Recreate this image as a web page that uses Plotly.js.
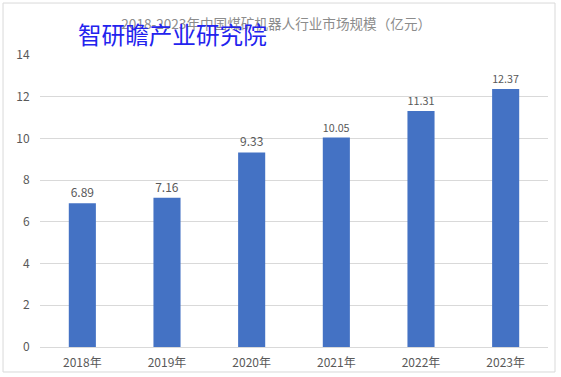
<!DOCTYPE html>
<html>
<head>
<meta charset="utf-8">
<script src="https://cdn.plot.ly/plotly-3.0.1.min.js"></script>
<style>
html,body{margin:0;padding:0;background:#fff;}
#chart{width:561px;height:377px;}
</style>
</head>
<body>
<div id="chart"></div>
<script>
const categories = ["2018年","2019年","2020年","2021年","2022年","2023年"];
const values = [6.89, 7.16, 9.33, 10.05, 11.31, 12.37];
const valueLabels = ["6.89","7.16","9.33","10.05","11.31","12.37"];
const yTicks = [0,2,4,6,8,10,12,14];
const chartTitle = "2018-2023年中国煤矿机器人行业市场规模（亿元）";
const watermark = "智研瞻产业研究院";

const font = '"Noto Sans CJK SC", "Noto Sans", sans-serif';

const trace = {
  type: 'bar',
  x: categories,
  y: values,
  text: valueLabels,
  textposition: 'outside',
  cliponaxis: false,
  textfont: {family: font, size: 12, color: '#595959'},
  marker: {color: '#4472c4'},
  hoverinfo: 'none'
};

const layout = {
  width: 561, height: 377,
  margin: {l: 40, r: 13, t: 55, b: 30},
  paper_bgcolor: '#fff', plot_bgcolor: '#fff',
  bargap: 0.68,
  showlegend: false,
  font: {family: font, color: '#595959', size: 12},
  title: {
    text: chartTitle,
    font: {family: font, size: 13.6, color: '#8c8c8c'},
    x: 0.465, xanchor: 'center', xref: 'paper',
    y: 0.935, yanchor: 'middle', yref: 'container'
  },
  xaxis: {
    type: 'category',
    showgrid: false,
    showline: true, linecolor: '#d9d9d9', linewidth: 1,
    ticks: 'outside', ticklen: 5, tickcolor: 'rgba(0,0,0,0)',
    tickfont: {family: font, size: 12, color: '#595959'},
    zeroline: false
  },
  yaxis: {
    range: [0, 14],
    tickvals: yTicks,
    showgrid: true, gridcolor: '#d9d9d9', gridwidth: 1,
    zeroline: false, showline: false,
    ticks: 'outside', ticklen: 7, tickcolor: 'rgba(0,0,0,0)',
    tickfont: {family: font, size: 12, color: '#595959'}
  },
  shapes: [{
    type: 'rect', xref: 'paper', yref: 'paper',
    x0: -0.0728, x1: 1.0138, y0: -0.0856, y1: 1.178,
    line: {color: '#d9d9d9', width: 1}, fillcolor: 'rgba(0,0,0,0)', layer: 'below'
  }],
  annotations: [{
    text: watermark, xref: 'paper', yref: 'paper',
    x: (76 - 40) / 508, xanchor: 'left',
    y: (347 - 34) / 292, yanchor: 'middle',
    showarrow: false,
    font: {family: font, size: 23.6, color: '#2323ee'}
  }]
};

Plotly.newPlot('chart', [trace], layout, {displayModeBar: false, staticPlot: true});
</script>
</body>
</html>
